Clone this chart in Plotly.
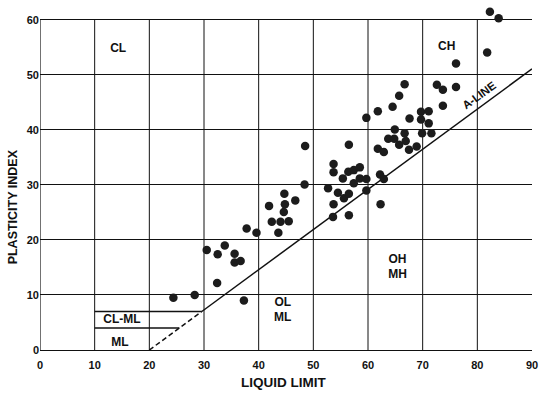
import plotly.graph_objects as go

# Sample points: liquid limit (x) and plasticity index (y)
liquid_limit = [24.4, 28.3, 30.5, 32.4, 32.5, 33.8, 35.6, 35.6, 36.7, 37.3,
                37.8, 39.6, 41.9, 42.4, 44.0, 45.5, 43.6, 44.6, 44.8, 44.7,
                46.7, 48.4, 48.5,
                52.7, 53.6, 53.7, 53.7, 53.7, 54.5, 55.4, 55.6, 56.4, 56.5,
                56.5, 56.5, 57.4, 57.4, 58.5, 58.5, 59.7, 59.7, 59.7, 61.8,
                62.3, 62.2, 62.9, 61.8, 62.9, 63.7, 64.8, 64.5, 64.9, 65.7,
                65.7, 66.7, 66.7, 66.9, 67.5, 68.9, 67.6, 69.7, 69.7, 69.9,
                71.1, 71.1, 71.6, 72.6, 73.7, 76.1, 73.7, 76.1, 81.8, 82.3, 83.9]
plasticity_index = [9.5, 10.0, 18.2, 12.2, 17.4, 19.0, 17.5, 15.9, 16.2, 9.0,
                    22.1, 21.3, 26.2, 23.3, 23.3, 23.4, 21.3, 25.1, 26.5, 28.4,
                    27.2, 30.1, 37.1,
                    29.4, 24.2, 26.5, 32.3, 33.8, 28.6, 31.2, 27.6, 32.4, 28.4,
                    24.5, 37.3, 32.7, 30.3, 33.2, 31.2, 31.1, 29.0, 42.2, 43.4,
                    26.5, 31.9, 31.1, 36.6, 36.0, 38.4, 38.4, 44.2, 40.1, 46.2,
                    37.3, 48.3, 39.4, 38.0, 36.4, 37.0, 42.1, 43.3, 41.9, 39.4,
                    43.4, 41.2, 39.4, 48.2, 47.3, 47.8, 44.4, 52.1, 54.1, 61.5, 60.3]

# A-line (PI = 0.73 (LL - 20)), solid and dashed parts
aline_solid_x = [29.6, 90]
aline_solid_y = [7.0, 51.1]
aline_dash_x = [20, 29.6]
aline_dash_y = [0, 7.0]
# CL-ML band boundaries
clml_upper_x = [10, 29.6]
clml_upper_y = [7, 7]
clml_lower_x = [10, 25.5]
clml_lower_y = [4, 4]

x_ticks = [0, 10, 20, 30, 40, 50, 60, 70, 80, 90]
y_ticks = [0, 10, 20, 30, 40, 50, 60]
chart_top = 60

zone_labels = ["CL", "CH", "OH<br>MH", "OL<br>ML", "CL-ML", "ML"]
zone_x = [14.3, 74.4, 65.4, 44.4, 15.0, 14.6]
zone_y = [54.7, 55.0, 15.0, 7.2, 5.5, 1.3]

FONT = "Arial, Liberation Sans, sans-serif"
INK = "#111111"

fig = go.Figure()

# vertical grid lines and left border, stopping at the top of the chart
for xv in x_ticks[:-1]:
    fig.add_shape(type="line", xref="x", yref="y", x0=xv, x1=xv,
                  y0=0, y1=chart_top, layer="below",
                  line=dict(color=INK, width=1.2 if xv == 0 else 1))

for xs, ys, dash in [(aline_solid_x, aline_solid_y, "solid"),
                     (aline_dash_x, aline_dash_y, "5px,3px"),
                     (clml_upper_x, clml_upper_y, "solid"),
                     (clml_lower_x, clml_lower_y, "solid")]:
    fig.add_trace(go.Scatter(x=xs, y=ys, mode="lines",
                             line=dict(color=INK, width=1.5, dash=dash),
                             hoverinfo="skip", showlegend=False))

fig.add_trace(go.Scatter(x=liquid_limit, y=plasticity_index, mode="markers",
                         marker=dict(size=8.5, color="#1c1c1c",
                                     line=dict(width=0)),
                         showlegend=False))

fig.add_trace(go.Scatter(x=zone_x, y=zone_y, mode="text", text=zone_labels,
                         textfont=dict(family=FONT, size=12, color=INK,
                                       weight="bold"),
                         hoverinfo="skip", showlegend=False, cliponaxis=False))

fig.add_annotation(x=80.4, y=46.3, text="A-LINE", showarrow=False,
                   textangle=-36,
                   font=dict(family=FONT, size=11.5, color=INK, weight="bold"))

fig.add_annotation(xref="paper", yref="paper", x=0.494, y=-0.095,
                   xanchor="center", yanchor="middle",
                   text="LIQUID LIMIT", showarrow=False,
                   font=dict(family=FONT, size=13.5, color=INK, weight="bold"))
fig.add_annotation(xref="paper", yref="paper", x=-0.055, y=0.415,
                   xanchor="center", yanchor="middle",
                   text="PLASTICITY INDEX", showarrow=False, textangle=-90,
                   font=dict(family=FONT, size=12.5, color=INK, weight="bold"))

fig.update_xaxes(range=[0, 90], tickvals=x_ticks, showgrid=False,
                 zeroline=False, automargin=False,
                 showline=True, linecolor=INK, linewidth=1.2,
                 ticks="outside", ticklen=5, tickcolor="rgba(0,0,0,0)",
                 tickfont=dict(family=FONT, size=11, color=INK, weight="bold"))
fig.update_yaxes(range=[0, 62.9], tickvals=y_ticks, showgrid=True,
                 gridcolor=INK, gridwidth=1, zeroline=False, automargin=False,
                 showline=False,
                 ticks="", tickfont=dict(family=FONT, size=11, color=INK,
                                         weight="bold"))

fig.update_layout(width=539, height=393,
                  margin=dict(l=40, r=7, t=4, b=43),
                  paper_bgcolor="white", plot_bgcolor="white",
                  showlegend=False)

fig.write_html("out.html",
               config={"displayModeBar": False},
               post_script="document.body.style.margin='0px';")
